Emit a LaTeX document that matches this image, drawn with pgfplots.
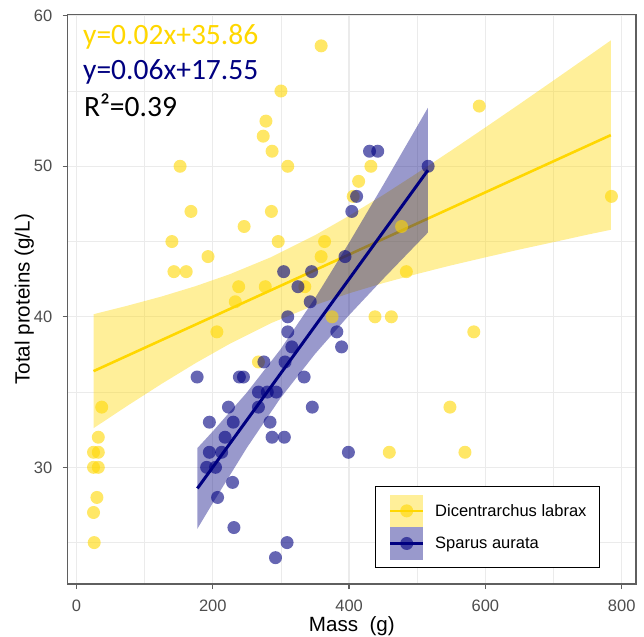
\documentclass[border=0pt]{standalone}
\usepackage{fontspec}
\setmainfont{Liberation Sans}
\newfontfamily\calibri{Carlito}
\usepackage{pgfplots}
\pgfplotsset{compat=1.18}
\definecolor{gold}{RGB}{255,215,0}
\definecolor{navyb}{RGB}{0,0,128}
\definecolor{gridc}{RGB}{235,235,235}
\definecolor{framec}{RGB}{95,95,95}
\definecolor{tickc}{RGB}{77,77,77}
\begin{document}
\begin{tikzpicture}
\useasboundingbox (-67.7pt,-52pt) rectangle (576.3pt,584pt);
\begin{axis}[
  at={(0pt,0pt)}, anchor=south west,
  scale only axis, width=568.3pt, height=569.3pt,
  xmin=-12.9, xmax=821, ymin=22.25, ymax=60.07,
  xtick={0,200,400,600,800}, ytick={30,40,50,60},
  minor xtick={100,300,500,700}, minor ytick={25,35,45,55},
  grid=both,
  major grid style={gridc, line width=1.3pt},
  minor grid style={gridc, line width=0.7pt},
  axis line style={framec, line width=1.2pt},
  tick align=outside, tick pos=left,
  major tick length=5pt, minor tick length=0pt,
  tick style={framec, line width=1.2pt},
  minor tick style={draw=none},
  /pgf/number format/assume math mode=true,
  ticklabel style={font=\fontsize{16.5}{19.8}\selectfont, text=tickc, inner sep=0pt},
  xticklabel style={anchor=base, yshift=-22.8pt},
  yticklabel style={anchor=east, xshift=-10.2pt},
  xlabel={Mass\ \ (g)},
  ylabel={Total proteins (g/L)},
  label style={font=\fontsize{20.6}{24}\selectfont, inner sep=0pt},
  xlabel style={at={(axis description cs:0.5,-0.0826)}, anchor=base},
  ylabel style={at={(axis description cs:-0.0669,0.5)}, anchor=base},
  legend style={at={(0.9367,0.0276)}, anchor=south east, draw=black, line width=1pt, fill=white,
    inner xsep=13pt, inner ysep=8pt, row sep=0pt, column sep=10.7pt,
    font=\fontsize{16.5}{19.8}\selectfont, nodes={inner sep=0pt}},
  legend cell align=left,
]
% points
\addplot[only marks, color=gold, mark=*, mark size=6.5pt, mark options={draw=none, draw opacity=0, fill=gold, fill opacity=0.6}, forget plot] coordinates {
(26,25) (25,27) (30,28) (25,30) (32,30) (25,31) (32,31) (32,32) (37,34)
(152,50) (168,47) (140,45) (143,43) (161,43) (193,44) (206,39) (233,41) (238,42)
(246,46) (267,37) (274,52) (278,53) (277,42) (286,47) (287,51) (296,45) (300,55)
(310,50) (335,42) (359,58) (359,44) (364,45) (375,40) (406,48) (414,49) (432,50)
(438,40) (462,40) (459,31) (477,46) (484,43) (548,34) (570,31) (583,39) (591,54) (785,48)
};
\addplot[only marks, color=navyb, mark=*, mark size=6.5pt, mark options={draw=none, draw opacity=0, fill=navyb, fill opacity=0.6}, forget plot] coordinates {
(177,36) (191,30) (195,33) (195,31) (204,30) (207,28) (213,31) (218,32) (223,34)
(229,29) (230,33) (231,26) (239,36) (245,36) (267,35) (267,34) (275,37) (280,35)
(284,33) (287,32) (292,24) (293,35) (304,43) (305,32) (306,37) (309,25) (310,40)
(310,39) (316,38) (325,42) (334,36) (343,41) (345,43) (346,34) (382,39) (389,38)
(394,44) (399,31) (404,47) (411,48) (430,51) (442,51) (516,50)
};
% yellow ribbon and line
\addplot[fill=gold, fill opacity=0.4, draw=none, forget plot] coordinates {
(25,40.17) (75,40.74) (125,41.35) (175,42.04) (225,42.83) (286,43.97) (350,45.42) (400,46.71)
(450,48.09) (500,49.55) (550,51.05) (600,52.58) (650,54.13) (700,55.70) (750,57.28) (784,58.36)
(784,45.78) (750,45.46) (700,44.96) (650,44.47) (600,43.95) (550,43.42) (500,42.85) (450,42.24)
(400,41.56) (350,40.78) (286,39.59) (225,38.21) (175,36.93) (125,35.55) (75,34.10) (25,32.60)
};
\addplot[gold, line width=2.6pt, forget plot] coordinates {(25,36.39) (784,52.07)};
% blue ribbon and line
\addplot[fill=navyb, fill opacity=0.4, draw=none, forget plot] coordinates {
(177.4,31.28) (200,32.39) (250,34.97) (299,37.82) (350,41.24) (400,44.92) (450,48.75) (515.7,53.89)
(515.7,45.60) (450,42.52) (400,40.11) (350,37.53) (299,34.58) (250,31.30) (200,27.63) (177.4,25.92)
};
\addplot[navyb, line width=3pt, forget plot] coordinates {(177.4,28.60) (515.7,49.74)};
% legend
\addlegendimage{legend image code/.code={
  \path[draw=none, fill=gold, fill opacity=0.4] (0pt,-16.3pt) rectangle (32.6pt,16.3pt);
  \path[draw=gold, line width=2.6pt] (0pt,0pt) -- (32.6pt,0pt);
  \path[draw=none, fill=gold, fill opacity=0.6] (16.3pt,0pt) circle (6.5pt);}}
\addlegendentry{Dicentrarchus labrax}
\addlegendimage{legend image code/.code={
  \path[draw=none, fill=navyb, fill opacity=0.4] (0pt,-16.3pt) rectangle (32.6pt,16.3pt);
  \path[draw=navyb, line width=3pt] (0pt,0pt) -- (32.6pt,0pt);
  \path[draw=none, fill=navyb, fill opacity=0.6] (16.3pt,0pt) circle (6.5pt);}}
\addlegendentry{Sparus aurata}
% annotations
\node[anchor=base west, text=gold, font=\calibri\fontsize{29.5}{35}\selectfont, inner sep=0pt] at (rel axis cs:0.0269,0.9485) {y=0.02x+35.86};
\node[anchor=base west, text=navyb, font=\calibri\fontsize{29.5}{35}\selectfont, inner sep=0pt] at (rel axis cs:0.0269,0.8853) {y=0.06x+17.55};
\node[anchor=base west, text=black, font=\calibri\fontsize{29.5}{35}\selectfont, inner sep=0pt] at (rel axis cs:0.0284,0.8208) {R²=0.39};
\end{axis}
\end{tikzpicture}
\end{document}
